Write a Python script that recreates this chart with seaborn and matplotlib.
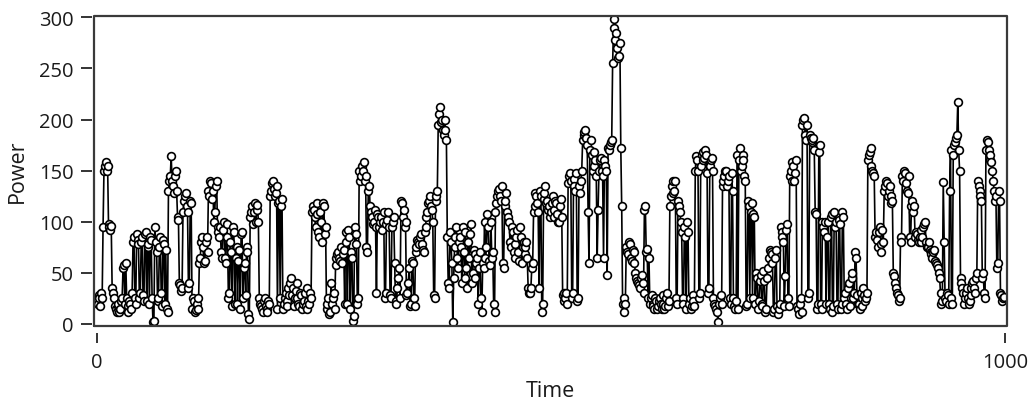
import numpy as np
import pandas as pd
import matplotlib
matplotlib.use("Agg")
import matplotlib.pyplot as plt
import seaborn as sns

# Power values.
# "even" lists hold times 0,2,4,...; "odd" lists hold times 1,3,5,...
power_000_even = [22, 28, 18, 25, 150, 158, 155, 95, 96, 30, 18, 12, 20, 15, 25, 58, 60, 18, 22, 15,
                  80, 25, 88, 78, 30, 85, 22, 90, 75, 20, 82, 2, 95, 70, 25, 85, 18, 78, 72, 12,
                  140, 164, 135, 145, 130, 102, 38, 35, 120, 128]
power_000_odd = [20, 25, 30, 95, 155, 150, 98, 92, 35, 25, 15, 18, 12, 22, 55, 20, 25, 12, 20, 30,
                 85, 20, 82, 25, 80, 28, 88, 22, 78, 85, 25, 3, 80, 22, 75, 30, 82, 20, 15, 130,
                 145, 140, 128, 150, 105, 40, 32, 110, 125, 115]
power_100_even = [110, 40, 118, 25, 12, 20, 15, 65, 85, 60, 80, 70, 125, 138, 130, 110, 140, 90, 95, 65,
                  100, 60, 85, 30, 70, 95, 20, 75, 62, 15, 90, 55, 28, 70, 5, 110, 98, 118, 112, 100,
                  20, 15, 22, 18, 12, 20, 130, 140, 125, 135]
power_100_odd = [35, 120, 15, 22, 14, 25, 60, 80, 75, 62, 85, 130, 140, 122, 100, 135, 95, 85, 70, 92,
                 65, 98, 25, 80, 18, 90, 65, 20, 72, 88, 25, 60, 75, 10, 105, 115, 110, 100, 116, 25,
                 18, 12, 25, 15, 22, 125, 138, 132, 128, 15]
power_200_even = [118, 25, 122, 20, 30, 18, 28, 45, 35, 25, 40, 20, 30, 15, 22, 18, 35, 20, 25, 115,
                  105, 118, 90, 110, 80, 115, 95, 20, 10, 40, 25, 15, 65, 70, 62, 60, 72, 90, 20, 85,
                  70, 3, 95, 78, 25, 140, 155, 158, 145, 70]
power_200_odd = [120, 115, 15, 25, 22, 35, 40, 28, 18, 32, 25, 18, 28, 20, 30, 15, 22, 30, 110, 112,
                 95, 108, 85, 100, 118, 88, 15, 25, 12, 20, 30, 58, 68, 65, 75, 68, 20, 80, 92, 15,
                 65, 8, 88, 20, 150, 145, 150, 140, 75, 130]
power_300_even = [135, 110, 98, 112, 30, 105, 100, 92, 110, 30, 102, 95, 25, 100, 60, 20, 45, 25, 118, 112,
                  100, 30, 55, 20, 60, 18, 75, 80, 85, 78, 70, 95, 110, 120, 115, 100, 25, 125, 195, 212,
                  200, 185, 190, 85, 35, 80, 2, 75, 95, 55]
power_300_odd = [115, 105, 100, 95, 108, 95, 105, 100, 25, 98, 110, 28, 95, 105, 22, 35, 55, 120, 105, 95,
                 28, 40, 18, 62, 25, 70, 82, 78, 88, 72, 90, 105, 118, 125, 112, 28, 120, 130, 205, 198,
                 190, 200, 180, 40, 90, 60, 45, 85, 65, 80]
power_400_even = [85, 40, 70, 90, 35, 65, 98, 50, 68, 60, 20, 70, 12, 55, 65, 108, 62, 100, 70, 12,
                  118, 130, 125, 135, 55, 120, 110, 100, 75, 90, 65, 85, 70, 95, 60, 80, 75, 65, 30, 35,
                  60, 115, 125, 110, 130, 12, 122, 135, 120, 115]
power_400_odd = [75, 95, 45, 55, 80, 88, 40, 72, 45, 65, 55, 25, 60, 100, 75, 95, 58, 65, 20, 110,
                 125, 132, 120, 60, 115, 128, 105, 80, 95, 70, 78, 92, 62, 85, 75, 68, 80, 35, 30, 55,
                 110, 128, 118, 35, 125, 20, 128, 118, 112, 105]
power_500_even = [110, 125, 105, 118, 100, 115, 105, 30, 25, 20, 145, 140, 30, 135, 148, 25, 128, 150, 185, 190,
                  175, 60, 180, 150, 168, 145, 112, 160, 150, 65, 155, 48, 170, 178, 255, 298, 285, 260, 275, 115,
                  12, 20, 70, 80, 65, 72, 60, 45, 40, 35]
power_500_odd = [118, 112, 120, 108, 100, 122, 28, 22, 30, 138, 148, 25, 142, 130, 22, 135, 140, 180, 188, 182,
                 110, 170, 165, 155, 160, 65, 150, 162, 145, 160, 150, 172, 175, 180, 290, 278, 270, 262, 172, 20,
                 25, 75, 68, 78, 62, 70, 50, 42, 38, 45]
power_600_even = [48, 30, 115, 73, 65, 25, 20, 15, 22, 18, 25, 15, 20, 18, 30, 22, 125, 140, 130, 25,
                  120, 110, 90, 20, 85, 100, 20, 15, 28, 18, 164, 150, 30, 165, 160, 170, 148, 35, 160, 150,
                  20, 15, 2, 25, 20, 140, 150, 135, 145, 20]
power_600_odd = [40, 112, 70, 25, 20, 28, 18, 25, 15, 22, 20, 28, 15, 25, 18, 115, 135, 128, 140, 20,
                 115, 100, 25, 95, 15, 90, 25, 18, 22, 150, 160, 25, 155, 168, 162, 165, 30, 155, 162, 25,
                 18, 12, 20, 28, 135, 145, 150, 140, 25, 148]
power_700_even = [130, 18, 22, 15, 172, 155, 160, 140, 20, 115, 110, 25, 105, 50, 15, 42, 20, 52, 12, 45,
                  65, 70, 60, 15, 72, 10, 20, 90, 80, 47, 98, 18, 150, 158, 140, 160, 15, 20, 12, 200,
                  185, 195, 30, 182, 180, 170, 108, 20, 175, 15]
power_700_odd = [25, 15, 165, 160, 150, 165, 145, 18, 120, 25, 118, 108, 20, 45, 22, 48, 18, 42, 15, 55,
                 72, 68, 12, 65, 18, 15, 95, 85, 18, 92, 25, 145, 140, 155, 148, 18, 10, 25, 195, 202,
                 180, 25, 185, 178, 182, 110, 15, 168, 20, 100]
power_800_even = [95, 100, 85, 20, 105, 12, 110, 100, 15, 98, 20, 105, 30, 15, 40, 25, 50, 30, 65, 20,
                  15, 25, 35, 22, 30, 165, 172, 150, 145, 90, 75, 95, 70, 80, 135, 138, 130, 125, 120, 47,
                  35, 28, 25, 80, 140, 148, 130, 145, 80, 120]
power_800_odd = [90, 20, 100, 15, 108, 18, 95, 20, 102, 15, 110, 25, 20, 35, 18, 45, 25, 70, 28, 20,
                 30, 18, 28, 25, 160, 168, 155, 148, 85, 82, 90, 78, 92, 130, 140, 125, 135, 118, 50, 40,
                 30, 22, 85, 145, 150, 138, 128, 85, 115, 110]
power_900_even = [115, 90, 82, 85, 80, 95, 100, 75, 80, 70, 65, 72, 60, 55, 45, 20, 139, 25, 30, 20,
                  170, 20, 175, 182, 217, 150, 40, 30, 25, 35, 20, 28, 40, 35, 45, 140, 130, 120, 50, 25,
                  180, 170, 165, 150, 130, 125, 60, 120, 28, 25]
power_900_odd = [85, 88, 80, 92, 85, 98, 80, 75, 72, 68, 70, 62, 58, 50, 30, 22, 80, 22, 28, 130,
                 25, 165, 178, 185, 170, 45, 35, 20, 30, 25, 22, 35, 42, 30, 50, 135, 125, 45, 30, 170,
                 178, 160, 158, 140, 120, 55, 130, 30, 22, 26]

even_vals = (power_000_even + power_100_even + power_200_even + power_300_even + power_400_even +
             power_500_even + power_600_even + power_700_even + power_800_even + power_900_even)
odd_vals = (power_000_odd + power_100_odd + power_200_odd + power_300_odd + power_400_odd +
            power_500_odd + power_600_odd + power_700_odd + power_800_odd + power_900_odd)

power = np.empty(len(even_vals) + len(odd_vals), dtype=float)
power[0::2] = even_vals
power[1::2] = odd_vals
time = np.arange(len(power))

x_ticks = [0, 1000]
y_ticks = [0, 50, 100, 150, 200, 250, 300]

df = pd.DataFrame({"Time": time, "Power": power})

sns.set_theme(style="white")
plt.rcParams["font.family"] = ["Open Sans", "DejaVu Sans"]

fig = plt.figure(figsize=(10.31, 4.02), dpi=100)
ax = fig.add_axes([0.0915, 0.1873, 0.8855, 0.7711])

sns.lineplot(data=df, x="Time", y="Power", ax=ax, estimator=None, sort=False,
             color="black", linewidth=1.2, marker="o", markersize=5.6,
             markerfacecolor="white", markeredgecolor="black", markeredgewidth=1.2)

ax.set_xlim(-2.6, 1002.5)
ax.set_ylim(-1.7, 301.6)
ax.set_xticks(x_ticks)
ax.set_yticks(y_ticks)
ax.set_xticklabels([str(t) for t in x_ticks])
ax.set_yticklabels([str(t) for t in y_ticks])

# frame
for s in ["top", "right", "left", "bottom"]:
    ax.spines[s].set_visible(False)
ax.plot([0, 1, 1, 0, 0], [0, 0, 1, 1, 0], transform=ax.transAxes, color="#3a3a3a",
        linewidth=1.6, clip_on=False, zorder=5)

ax.tick_params(axis="both", which="both", direction="out", colors="#333333",
               labelcolor="#1a1a1a", labelsize=14.5)
ax.tick_params(axis="y", length=8, width=1.4, pad=5, left=True)
ax.tick_params(axis="x", length=7, width=1.4, pad=7, bottom=True)
ax.spines["bottom"].set_position(("outward", 5))
ax.spines["left"].set_position(("outward", 2))

ax.set_xlabel("Time", fontsize=15.5, color="#1a1a1a", labelpad=6)
ax.set_ylabel("Power", fontsize=15.5, color="#1a1a1a", labelpad=8)
ax.grid(False)

fig.savefig("out.png", dpi=100)
